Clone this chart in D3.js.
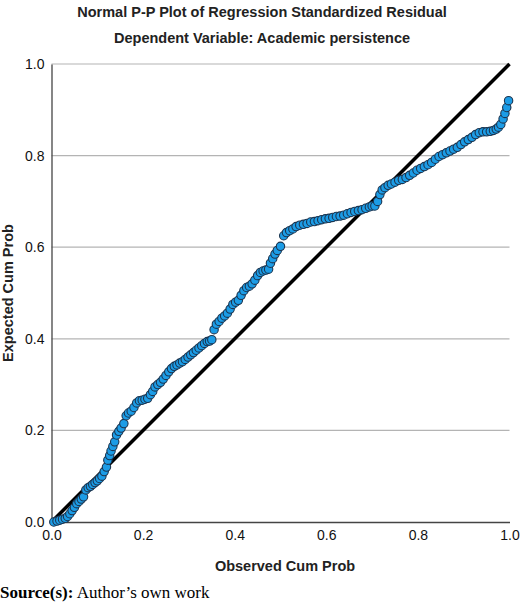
<!DOCTYPE html>
<html>
<head>
<meta charset="utf-8" />
<title>P-P plot</title>
<style>
  body { margin: 0; background: #fff; }
  text { font-family: "Liberation Sans", Arial, sans-serif; }
</style>
</head>
<body>
<script src="https://cdn.jsdelivr.net/npm/d3@7"></script>
<svg id="chart" width="520" height="605"></svg>
<script>
    var observed = [0.005,0.012,0.018,0.024,0.03,0.035,0.04,0.045,0.05,0.055,0.06,0.065,0.07,0.075,0.08,0.085,0.09,0.095,0.1,0.105,0.11,0.115,0.12,0.123,0.127,0.13,0.134,0.138,0.142,0.147,0.152,0.158,0.163,0.168,0.174,0.18,0.186,0.192,0.198,0.204,0.21,0.216,0.221,0.226,0.232,0.238,0.244,0.25,0.256,0.262,0.268,0.274,0.28,0.286,0.292,0.298,0.304,0.31,0.316,0.322,0.328,0.334,0.34,0.345,0.35,0.355,0.36,0.366,0.372,0.378,0.384,0.39,0.396,0.402,0.408,0.414,0.42,0.426,0.432,0.438,0.444,0.45,0.456,0.462,0.468,0.474,0.478,0.483,0.488,0.493,0.5,0.507,0.513,0.52,0.527,0.534,0.542,0.55,0.558,0.566,0.574,0.582,0.59,0.598,0.606,0.614,0.622,0.63,0.638,0.646,0.654,0.662,0.67,0.678,0.686,0.694,0.7,0.706,0.712,0.717,0.722,0.728,0.735,0.742,0.75,0.758,0.766,0.774,0.782,0.79,0.798,0.806,0.814,0.822,0.83,0.838,0.846,0.854,0.862,0.87,0.878,0.886,0.894,0.902,0.91,0.918,0.926,0.934,0.942,0.95,0.958,0.965,0.971,0.976,0.981,0.986,0.99,0.994,0.998];
    var expected = [0.0,0.002,0.004,0.006,0.008,0.012,0.018,0.025,0.032,0.04,0.045,0.05,0.055,0.07,0.075,0.078,0.082,0.086,0.09,0.095,0.1,0.11,0.12,0.135,0.145,0.155,0.165,0.175,0.19,0.198,0.205,0.215,0.232,0.238,0.242,0.25,0.26,0.265,0.266,0.268,0.27,0.278,0.285,0.295,0.3,0.305,0.312,0.32,0.328,0.335,0.34,0.343,0.347,0.35,0.355,0.36,0.365,0.37,0.375,0.38,0.385,0.39,0.394,0.395,0.398,0.42,0.432,0.438,0.445,0.45,0.456,0.465,0.475,0.48,0.484,0.495,0.505,0.512,0.515,0.52,0.528,0.538,0.545,0.548,0.55,0.552,0.565,0.575,0.585,0.593,0.602,0.625,0.632,0.636,0.64,0.645,0.648,0.65,0.652,0.655,0.656,0.658,0.66,0.662,0.663,0.665,0.667,0.668,0.67,0.673,0.676,0.678,0.68,0.682,0.685,0.688,0.69,0.69,0.7,0.715,0.725,0.73,0.735,0.738,0.742,0.746,0.748,0.752,0.757,0.762,0.768,0.772,0.776,0.78,0.785,0.792,0.798,0.802,0.806,0.81,0.814,0.818,0.824,0.83,0.835,0.84,0.846,0.85,0.852,0.852,0.853,0.855,0.858,0.862,0.868,0.88,0.892,0.905,0.92,0.935,0.95,0.955];
    var ticks = [0, 0.2, 0.4, 0.6, 0.8, 1.0];

    var points = observed.slice(0, expected.length);

    var svg = d3.select("#chart");
    var x = d3.scaleLinear().domain([0, 1]).range([51.5, 509.5]);
    var y = d3.scaleLinear().domain([0, 1]).range([522, 64]);

    // gridlines
    svg.selectAll("line.grid").data(ticks.slice(1))
        .enter().append("line").attr("class", "grid")
        .attr("x1", x(0)).attr("x2", x(1))
        .attr("y1", function (d) { return y(d); })
        .attr("y2", function (d) { return y(d); })
        .attr("stroke", "#b4b4b4").attr("stroke-width", 1.2);

    var fmt = d3.format(".1f");
    svg.append("g").attr("transform", "translate(0," + y(0) + ")")
        .call(d3.axisBottom(x).tickValues(ticks).tickFormat(fmt).tickSize(0).tickPadding(8))
        .call(function (g) { g.select(".domain").attr("stroke", "#444").attr("stroke-width", 1.3); })
        .selectAll("text").attr("font-size", 14).attr("fill", "#111");
    svg.append("g").attr("transform", "translate(" + x(0) + ",0)")
        .call(d3.axisLeft(y).tickValues(ticks).tickFormat(fmt).tickSize(0).tickPadding(7))
        .call(function (g) { g.select(".domain").attr("stroke", "#444").attr("stroke-width", 1.3); })
        .selectAll("text").attr("font-size", 14).attr("fill", "#111");

    // reference line
    svg.append("line")
        .attr("x1", x(0)).attr("y1", y(0)).attr("x2", x(1)).attr("y2", y(1))
        .attr("stroke", "#000").attr("stroke-width", 3.5);

    svg.selectAll("circle").data(points)
        .enter().append("circle")
        .attr("cx", function (d) { return x(d); })
        .attr("cy", function (d, i) { return y(expected[i]); })
        .attr("r", 4.2)
        .attr("fill", "#1c9ce6")
        .attr("stroke", "#1b3550").attr("stroke-width", 1.1);

    svg.append("text").attr("x", 262).attr("y", 17).attr("text-anchor", "middle")
        .attr("font-size", 14.5).attr("font-weight", "bold").attr("fill", "#222")
        .text("Normal P-P Plot of Regression Standardized Residual");
    svg.append("text").attr("x", 262).attr("y", 43).attr("text-anchor", "middle")
        .attr("font-size", 14.5).attr("font-weight", "bold").attr("fill", "#222")
        .text("Dependent Variable: Academic persistence");
    svg.append("text").attr("x", 285).attr("y", 571).attr("text-anchor", "middle")
        .attr("font-size", 14.5).attr("font-weight", "bold").attr("fill", "#222")
        .text("Observed Cum Prob");
    svg.append("text").attr("transform", "translate(13,293) rotate(-90)").attr("text-anchor", "middle")
        .attr("font-size", 14.5).attr("font-weight", "bold").attr("fill", "#222")
        .text("Expected Cum Prob");

    var src = svg.append("text").attr("x", 0).attr("y", 598)
        .attr("font-size", 17).style("font-family", "'Liberation Serif', 'Times New Roman', serif");
    src.append("tspan").attr("font-weight", "bold").text("Source(s):");
    src.append("tspan").text(" Author\u2019s own work");
</script>
</body>
</html>
